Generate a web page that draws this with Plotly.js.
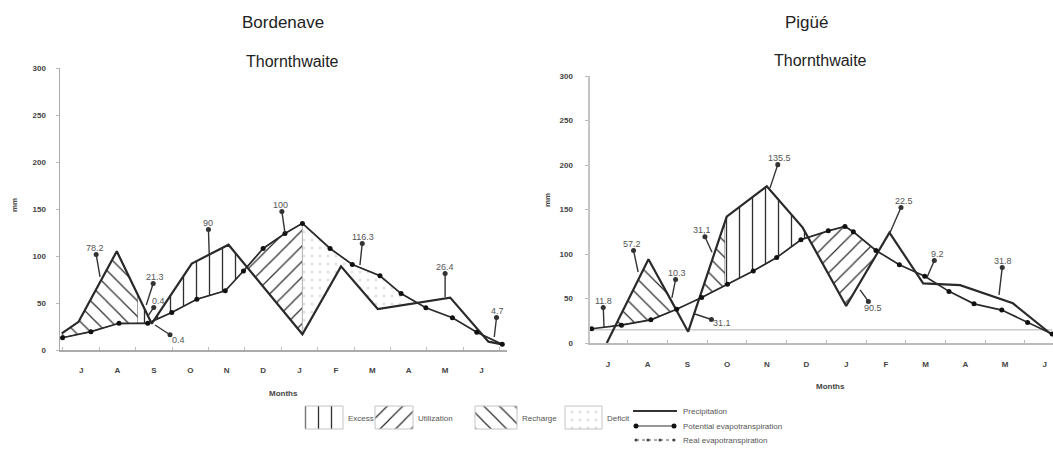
<!DOCTYPE html>
<html><head><meta charset="utf-8">
<script src="https://cdn.plot.ly/plotly-3.0.1.min.js"></script>
<style>html,body{margin:0;padding:0;background:#fff}#chart{width:1053px;height:449px}</style>
</head><body><div id="chart"></div>
<script>
// ---------- data ----------
const months = ['J','A','S','O','N','D','J','F','M','A','M','J'];
const monthIdx = [0,1,2,3,4,5,6,7,8,9,10,11];
const yTicks = [0,50,100,150,200,250,300];

// Bordenave (x = month position, y = mm)
const bordPrecX = [-0.53,-0.07,0.98,1.94,3.04,4.05,6.08,7.14,8.15,9.18,10.14,11.19,11.57];
const bordPrecY = [17.7,30,105,28,92,112,16.7,89,43.6,49.7,55.7,8.9,6];
const bordPetX  = [-0.51,0.27,1.04,1.83,2.49,3.18,3.96,4.46,5.0,5.6,6.08,6.84,7.45,8.21,8.79,9.47,10.2,10.87,11.57];
const bordPetY  = [13,19.5,28.4,28.4,40,54,63,84,108,124,134.7,108,91,79,60,45,34.4,18.8,6];
const bordZoneType = ['Recharge','Excess','Excess','Utilization','Deficit'];
const bordZoneFrom = [-0.53,1.56,2.0,4.4,6.08];
const bordZoneTo   = [1.56,1.99,4.7,6.08,9.3];
const bordZoneTop  = ['P','P','P','PET','PET'];
const bordLabels = ['78.2','21.3','0.4','0.4','90','100','116.3','26.4','4.7'];
const bordLabelX = [0.52,1.79,1.84,2.03,3.52,5.6,7.66,10.0,11.35];
const bordLabelY = [77.7,47.9,36.2,26.6,101,124.5,90.4,56.4,13.8];

// Pigüé
const pigPrecX = [-0.03,1.02,2.02,2.99,4.0,4.9,6.0,7.09,7.94,8.87,10.2,11.19];
const pigPrecY = [0,94,12.7,142,176,130,41.6,124,67,65,44.6,9];
const pigPetX  = [-0.41,0.34,1.08,1.73,2.36,3.01,3.66,4.25,4.86,5.55,5.97,6.18,6.75,7.34,7.98,8.59,9.22,9.92,10.57,11.19];
const pigPetY  = [16,20,26,38,51,66,81,96,116,126,131,125,104,88,75,58,44,37,23,10];
const pigZoneType = ['Recharge','Recharge','Excess','Utilization'];
const pigZoneFrom = [0.1,2.2,2.95,4.8];
const pigZoneTo   = [1.9,2.95,5.2,6.9];
const pigZoneTop  = ['P','P','P','PET'];
const pigBaseRef = 15;
const pigLabels = ['11.8','57.2','10.3','31.1','31,1','135.5','90.5','22.5','9.2','31.8'];
const pigLabelX = [-0.1,0.76,1.61,2.19,2.62,4.08,6.35,7.1,8.04,9.85];
const pigLabelY = [18,79.8,50.6,32.6,102,174,59.6,123.6,74.2,54];

const legendZones = ['Excess','Utilization','Recharge','Deficit'];
const legendLines = ['Precipitation','Potential evapotranspiration','Real evapotranspiration'];

// ---------- layout config (pixel offsets of labels) ----------
const bordOff = [[-5,-29],[9,-28],[10,-15],[23,15],[-1,-32],[-4,-28],[3,-28],[0,-30],[3,-26]];
const pigOff  = [[-1,-26],[-6,-28],[5,-25],[27,9],[-10,-22],[10,-30],[13,18],[14,-32],[10,-23],[4,-34]];

const patterns = {
  Excess:      {shape:'|', size:13, solidity:0.1, fgcolor:'#2e2e2e', bgcolor:'white'},
  Utilization: {shape:'/', size:11, solidity:0.11, fgcolor:'#2e2e2e', bgcolor:'white'},
  Recharge:    {shape:'\\', size:11, solidity:0.11, fgcolor:'#2e2e2e', bgcolor:'white'},
  Deficit:     {shape:'.', size:8, solidity:0.12, fgcolor:'#e2e2e2', bgcolor:'white'}
};

function interp(xs, ys, x){
  if (x <= xs[0]) return ys[0];
  if (x >= xs[xs.length-1]) return ys[ys.length-1];
  for (let i=1;i<xs.length;i++){
    if (x <= xs[i]){ const t=(x-xs[i-1])/(xs[i]-xs[i-1]); return ys[i-1]+t*(ys[i]-ys[i-1]); }
  }
  return ys[ys.length-1];
}
function zonePoly(tX,tY,bX,bY,x0,x1){
  let s = new Set([x0,x1]);
  tX.concat(bX).forEach(x=>{ if(x>x0 && x<x1) s.add(x); });
  const xs=[...s].sort((a,b)=>a-b);
  const d = x => interp(tX,tY,x)-interp(bX,bY,x);
  const all=[xs[0]];
  for(let i=1;i<xs.length;i++){
    const a=xs[i-1], b=xs[i], da=d(a), db=d(b);
    if (da*db<0){ all.push(a + da/(da-db)*(b-a)); }
    all.push(b);
  }
  const top = all.map(x=>Math.max(interp(tX,tY,x), interp(bX,bY,x)));
  const bot = all.map(x=>interp(bX,bY,x));
  return {x: all.concat(all.slice().reverse()), y: top.concat(bot.slice().reverse())};
}

const traces = [];
function addChart(xa, ya, pX,pY,eX,eY, zType,zFrom,zTo,zTop){
  for (let i=0;i<zType.length;i++){
    const poly = zTop[i]==='P' ? zonePoly(pX,pY,eX,eY,zFrom[i],zTo[i]) : zonePoly(eX,eY,pX,pY,zFrom[i],zTo[i]);
    traces.push({type:'scatter', mode:'lines', x:poly.x, y:poly.y, xaxis:xa, yaxis:ya,
      fill:'toself', fillcolor:'white', fillpattern:patterns[zType[i]],
      line:{color:'#444', width:0.9}, hoverinfo:'skip'});
  }
  traces.push({type:'scatter', mode:'lines', x:pX, y:pY, xaxis:xa, yaxis:ya,
    line:{color:'#2a2a2a', width:2.2}, hoverinfo:'skip'});
  traces.push({type:'scatter', mode:'lines+markers', x:eX, y:eY, xaxis:xa, yaxis:ya,
    line:{color:'#2a2a2a', width:1.7}, marker:{size:5, color:'#111'}, hoverinfo:'skip'});
}
addChart('x','y', bordPrecX,bordPrecY,bordPetX,bordPetY, bordZoneType,bordZoneFrom,bordZoneTo,bordZoneTop);
traces.push({type:'scatter', mode:'lines', x:[pigPetX[0], pigPetX[pigPetX.length-1]], y:[pigBaseRef,pigBaseRef],
  xaxis:'x2', yaxis:'y2', line:{color:'#cccccc', width:1.5}, hoverinfo:'skip'});
addChart('x2','y2', pigPrecX,pigPrecY,pigPetX,pigPetY, pigZoneType,pigZoneFrom,pigZoneTo,pigZoneTop);

// ---------- legend (pixel-space overlay axis) ----------
const legBoxX = [[305,343],[375,413],[475,517],[565,602]];
const legTextX = [346,416,520,605];
const legY = [406,429];
legendZones.forEach((z,i)=>{
  const [a,b]=legBoxX[i];
  traces.push({type:'scatter', mode:'lines', x:[a,b,b,a,a], y:[legY[0],legY[0],legY[1],legY[1],legY[0]],
    xaxis:'x3', yaxis:'y3', fill:'toself', fillcolor:'white', fillpattern:patterns[z],
    line:{color:'#c4c4c4', width:1}, hoverinfo:'skip'});
});
const legLineY = [411,426,440];
traces.push({type:'scatter', mode:'lines', x:[633,677], y:[legLineY[0],legLineY[0]], xaxis:'x3', yaxis:'y3',
  line:{color:'#333', width:2}, hoverinfo:'skip'});
traces.push({type:'scatter', mode:'lines+markers', x:[636,674], y:[legLineY[1],legLineY[1]], xaxis:'x3', yaxis:'y3',
  line:{color:'#333', width:1.2}, marker:{size:5,color:'#111'}, hoverinfo:'skip'});
traces.push({type:'scatter', mode:'lines+markers', x:[636,648,660,674], y:[legLineY[2],legLineY[2],legLineY[2],legLineY[2]], xaxis:'x3', yaxis:'y3',
  line:{color:'#555', width:1, dash:'dot'}, marker:{size:3,color:'#444'}, hoverinfo:'skip'});

// ---------- annotations ----------
const ann = [];
const lblFont = {family:'Liberation Sans, Arial, sans-serif', size:9, color:'#555'};
function addLabels(xr, yr, texts, xs, ys, off){
  texts.forEach((t,i)=>{
    ann.push({xref:xr, yref:yr, x:xs[i], y:ys[i], text:t, showarrow:true, ax:off[i][0], ay:off[i][1],
      arrowside:'start', startarrowhead:6, startarrowsize:0.9, arrowwidth:1.4, arrowcolor:'#333',
      startstandoff:0, standoff:0, font:lblFont});
  });
}
addLabels('x','y', bordLabels, bordLabelX, bordLabelY, bordOff);
addLabels('x2','y2', pigLabels, pigLabelX, pigLabelY, pigOff);

const titleFont = {family:'Liberation Sans, Arial, sans-serif', size:17, color:'#222'};
const subFont = {family:'Liberation Sans, Arial, sans-serif', size:16, color:'#222'};
const axFont = {family:'Liberation Sans, Arial, sans-serif', size:8, color:'#444', weight:'bold'};
function txt(x,y,t,f,extra){ ann.push(Object.assign({xref:'x3', yref:'y3', x:x, y:y, text:t, showarrow:false, font:f}, extra||{})); }
txt(283,22,'Bordenave',titleFont);
txt(292,61,'Thornthwaite',subFont);
txt(806,22,'Pigüé',titleFont);
txt(820,60,'Thornthwaite',subFont);
txt(283,393,'Months',axFont);
txt(830,386,'Months',axFont);
txt(14,205,'mm',axFont,{textangle:-90});
txt(547,200,'mm',axFont,{textangle:-90});
const legFont = {family:'Liberation Sans, Arial, sans-serif', size:8, color:'#555'};
legendZones.forEach((z,i)=>txt(legTextX[i],418,z,legFont,{xanchor:'left'}));
legendLines.forEach((z,i)=>txt(681,legLineY[i],z,legFont,{xanchor:'left'}));

// ---------- axes ----------
const tickFont = {family:'Liberation Sans, Arial, sans-serif', size:8, color:'#444', weight:'bold'};
function xAx(domain, range, anchor, lw, lc){
  return {domain:domain, range:range, anchor:anchor, tickmode:'array', tickvals:monthIdx, ticktext:months,
    ticks:'', showline:true, linecolor:lc, linewidth:lw, zeroline:false, showgrid:false,
    ticklabelstandoff:12, tickfont:tickFont, fixedrange:true,
    minor:{tickmode:'linear', tick0:0.5, dtick:1, ticks:'inside', ticklen:3, tickcolor:'#bbb', showgrid:false}};
}
function yAx(domain, anchor, lw, lc, stand){
  return {domain:domain, range:[0,300], anchor:anchor, tickmode:'array', tickvals:yTicks,
    ticks:'outside', ticklen:3, tickcolor:'#bbb', showline:true, linecolor:lc, linewidth:lw,
    zeroline:false, showgrid:false, ticklabelstandoff:stand, tickfont:tickFont, fixedrange:true};
}
const layout = {
  width:1053, height:449, margin:{l:0,r:0,t:0,b:0}, showlegend:false,
  paper_bgcolor:'white', plot_bgcolor:'rgba(0,0,0,0)',
  xaxis: xAx([60/1053, 507/1053], [-0.58, 11.7], 'y', 1.5, '#aaa'),
  yaxis: yAx([99/449, 381/449], 'x', 1.5, '#aaa', 8),
  xaxis2: xAx([590/1053, 1], [-0.453, 11.21], 'y2', 2, '#bbb'),
  yaxis2: yAx([106/449, 373/449], 'x2', 2.5, '#c4c4c4', 10),
  xaxis3: {domain:[0,1], range:[0,1053], anchor:'y3', visible:false, fixedrange:true},
  yaxis3: {domain:[0,1], range:[449,0], anchor:'x3', visible:false, fixedrange:true},
  annotations: ann
};
Plotly.newPlot('chart', traces, layout, {staticPlot:true, displayModeBar:false});
</script></body></html>
